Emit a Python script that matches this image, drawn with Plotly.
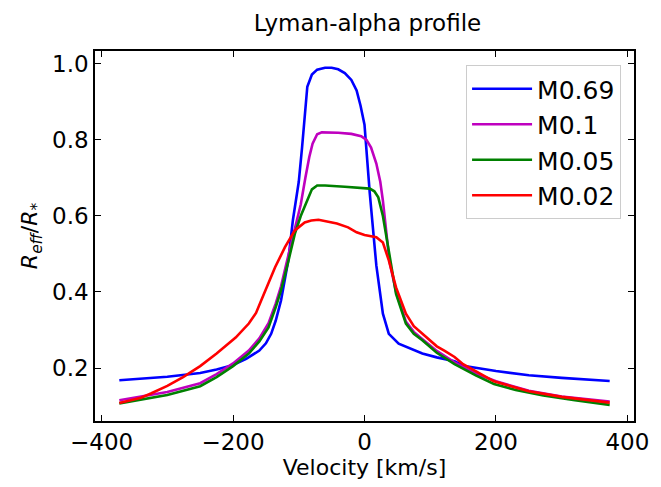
import plotly.graph_objects as go

# Velocity grids (km/s) and effective radius ratios for each model
v_m069 = [-373, -325, -300, -250, -225, -201, -180, -160, -150, -142, -135, -127, -116, -109,
          -104, -100, -95, -91, -87, -80, -72, -60, -50, -40, -30, -20, -12, -6, 0, 8, 18, 28,
          37, 52, 70, 88, 110, 137, 150, 200, 250, 300, 373]
r_m069 = [0.168, 0.173, 0.177, 0.187, 0.196, 0.207, 0.224, 0.246, 0.265, 0.29, 0.325, 0.378,
          0.483, 0.588, 0.64, 0.69, 0.78, 0.86, 0.94, 0.972, 0.985, 0.99, 0.99, 0.986, 0.976,
          0.958, 0.93, 0.89, 0.84, 0.66, 0.47, 0.343, 0.29, 0.264, 0.25, 0.238, 0.228, 0.218,
          0.206, 0.192, 0.181, 0.174, 0.166]

v_m01 = [-373, -330, -300, -250, -225, -200, -176, -160, -146, -135, -127, -116, -106, -97,
         -90, -84, -79, -72, -65, -40, -20, -12, -5, 3, 10, 18, 24, 28, 33, 38, 48, 63, 75, 88,
         110, 137, 170, 200, 250, 300, 373]
r_m01 = [0.115, 0.127, 0.137, 0.16, 0.184, 0.212, 0.246, 0.278, 0.318, 0.37, 0.415, 0.495,
         0.57, 0.63, 0.70, 0.755, 0.79, 0.815, 0.82, 0.819, 0.816, 0.812, 0.81, 0.80, 0.78,
         0.738, 0.69, 0.64, 0.56, 0.48, 0.40, 0.322, 0.295, 0.277, 0.245, 0.215, 0.185, 0.165,
         0.14, 0.125, 0.112]

v_m005 = [-373, -330, -300, -250, -225, -200, -176, -160, -146, -135, -127, -116, -106, -97,
          -87, -80, -72, -60, -30, 0, 8, 15, 21, 28, 33, 37, 48, 63, 75, 88, 110, 137, 170, 197,
          230, 272, 320, 373]
r_m005 = [0.107, 0.119, 0.129, 0.152, 0.176, 0.205, 0.238, 0.27, 0.307, 0.36, 0.404, 0.48,
          0.553, 0.60, 0.64, 0.67, 0.68, 0.68, 0.677, 0.674, 0.672, 0.665, 0.649, 0.60, 0.55,
          0.50, 0.395, 0.317, 0.29, 0.273, 0.24, 0.21, 0.18, 0.158, 0.142, 0.128, 0.115, 0.103]

v_m002 = [-373, -340, -325, -300, -276, -250, -225, -196, -176, -165, -157, -145, -136, -121,
          -106, -91, -81, -70, -60, -42, -25, -12, 0, 10, 18, 28, 37, 48, 63, 75, 88, 110, 122,
          137, 150, 197, 250, 300, 373]
r_m002 = [0.108, 0.122, 0.133, 0.153, 0.176, 0.205, 0.238, 0.28, 0.317, 0.345, 0.378, 0.425,
          0.465, 0.518, 0.562, 0.583, 0.588, 0.59, 0.587, 0.58, 0.57, 0.557, 0.55, 0.547, 0.544,
          0.53, 0.483, 0.412, 0.343, 0.31, 0.29, 0.257, 0.245, 0.229, 0.21, 0.165, 0.139, 0.124,
          0.109]

series = [
    ("M0.69", v_m069, r_m069, "#0000ff"),
    ("M0.1", v_m01, r_m01, "#bf00bf"),
    ("M0.05", v_m005, r_m005, "#008000"),
    ("M0.02", v_m002, r_m002, "#ff0000"),
]

x_ticks = [-400, -200, 0, 200, 400]
y_ticks = [0.2, 0.4, 0.6, 0.8, 1.0]

FONT = "DejaVu Sans"

fig = go.Figure()
for name, v, r, color in series:
    fig.add_trace(go.Scatter(x=v, y=r, mode="lines", name=name,
                             line=dict(color=color, width=2.6)))

axis_common = dict(
    showgrid=False, zeroline=False, showline=True, linecolor="black", linewidth=1.6,
    mirror="ticks", ticks="inside", ticklen=6, tickwidth=1.4, tickcolor="black",
    tickfont=dict(family=FONT, size=23, color="black"),
)

fig.update_layout(
    width=661, height=487,
    margin=dict(l=95, r=21, t=51, b=65),
    paper_bgcolor="white", plot_bgcolor="white",
    font=dict(family=FONT, color="black"),
    title=dict(text="Lyman-alpha profile", x=(95 + 640) / 2 / 661, xanchor="center",
               y=1 - 23 / 487, yanchor="middle",
               font=dict(family=FONT, size=23, color="black")),
    xaxis=dict(range=[-410, 410], tickvals=x_ticks,
               ticktext=["\u2212400", "\u2212200", "0", "200", "400"],
               title=dict(text="Velocity [km/s]", standoff=4,
                          font=dict(family=FONT, size=22, color="black")),
               **axis_common),
    yaxis=dict(range=[0.0606, 1.034], tickvals=y_ticks,
               ticktext=["0.2", "0.4", "0.6", "0.8", "1.0"],
               title=dict(text="<i>R</i><sub><i>eff</i></sub>/<i>R</i><sub>*</sub>", standoff=8,
                          font=dict(family=FONT, size=22, color="black")),
               **axis_common),
    legend=dict(x=0.976, y=0.962, xanchor="right", yanchor="top",
                bgcolor="rgba(255,255,255,0.8)", bordercolor="#cccccc", borderwidth=1,
                font=dict(family=FONT, size=25, color="black"),
                itemwidth=60, tracegroupgap=0),
    showlegend=True,
)

fig.write_html("out.html")
